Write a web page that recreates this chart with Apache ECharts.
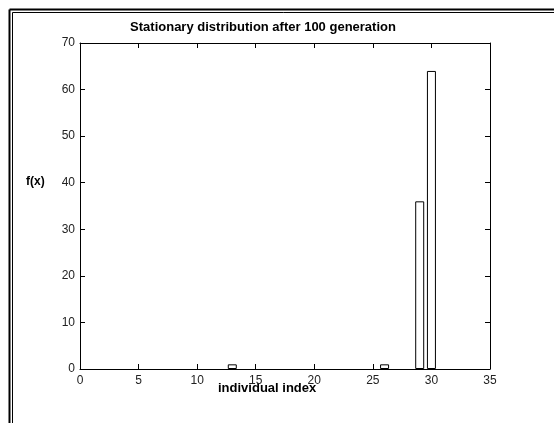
<!DOCTYPE html>
<html>
<head>
<meta charset="utf-8">
<script src="https://cdn.jsdelivr.net/npm/echarts@6/dist/echarts.min.js"></script>
<style>
  html, body { margin: 0; padding: 0; background: #fff; }
  #chart { width: 554px; height: 423px; }
</style>
</head>
<body>
<div id="chart"></div>
<script>
// individuals that survived and how often they appear
const individualIndex = [13, 26, 29, 30]
const frequency = [1, 1, 36, 64]

const xTicks = { min: 0, max: 35, interval: 5 }
const yTicks = { min: 0, max: 70, interval: 10 }

const titleText = 'Stationary distribution after 100 generation'
const xName = 'individual index'
const yName = 'f(x)'

const font = 'Liberation Sans, Arial, sans-serif'
const lineColor = '#000'

const chart = echarts.init(document.getElementById('chart'))

const baseAxis = {
  axisLine: { show: true, onZero: false, lineStyle: { color: lineColor, width: 1 } },
  axisTick: { show: true, inside: true, length: 5, lineStyle: { color: lineColor } },
  splitLine: { show: false },
  axisLabel: { color: '#222', fontFamily: font, fontSize: 12 }
}

const option = {
  animation: false,
  backgroundColor: '#fff',
  grid: { left: 80, right: 64, top: 43, bottom: 54 },
  title: {
    text: titleText,
    left: 258,
    top: 16,
    textAlign: 'center',
    textStyle: { fontFamily: font, fontSize: 13, fontWeight: 'bold', color: '#000' }
  },
  xAxis: [
    {
      ...baseAxis,
      type: 'value',
      ...xTicks,
      position: 'bottom',
      axisLabel: { ...baseAxis.axisLabel, margin: 6 }
    },
    {
      ...baseAxis,
      type: 'value',
      ...xTicks,
      position: 'top',
      axisLabel: { show: false }
    }
  ],
  yAxis: [
    {
      ...baseAxis,
      type: 'value',
      ...yTicks,
      position: 'left',
      axisLabel: { ...baseAxis.axisLabel, margin: 5 }
    },
    {
      ...baseAxis,
      type: 'value',
      ...yTicks,
      position: 'right',
      axisLabel: { show: false }
    }
  ],
  graphic: [
    // window frame (double line on top and left)
    { type: 'line', shape: { x1: 9.5, y1: 9.5, x2: 554, y2: 9.5 }, style: { stroke: '#000', lineWidth: 2 } },
    { type: 'line', shape: { x1: 9.5, y1: 9.5, x2: 9.5, y2: 423 }, style: { stroke: '#000', lineWidth: 2 } },
    { type: 'line', shape: { x1: 12.5, y1: 12.5, x2: 554, y2: 12.5 }, style: { stroke: '#000', lineWidth: 1 } },
    { type: 'line', shape: { x1: 12.5, y1: 12.5, x2: 12.5, y2: 423 }, style: { stroke: '#000', lineWidth: 1 } },
    {
      type: 'text', left: 218, top: 382,
      style: { text: xName, font: 'bold 13px ' + font, fill: '#000' }
    },
    {
      type: 'text', left: 26, top: 176,
      style: { text: yName, font: 'bold 12px ' + font, fill: '#000' }
    }
  ],
  series: [
    {
      type: 'bar',
      xAxisIndex: 0,
      yAxisIndex: 0,
      barWidth: 9,
      data: individualIndex.map((x, i) => [x, frequency[i]]),
      itemStyle: { color: '#fff', borderColor: '#000', borderWidth: 1 }
    }
  ]
}

chart.setOption(option)
</script>
</body>
</html>
